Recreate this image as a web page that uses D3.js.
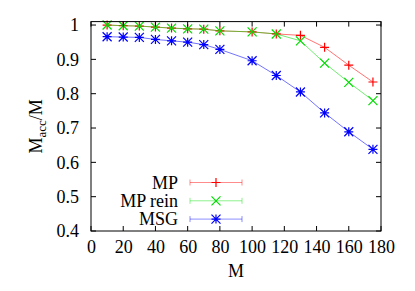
<!DOCTYPE html>
<html>
<head>
<meta charset="utf-8">
<script src="https://cdn.jsdelivr.net/npm/d3@7"></script>
</head>
<body style="margin:0; background:#fff">
<svg id="chart"></svg>
<script>
// x values (M)
const mValues = [10, 20, 30, 40, 50, 60, 70, 80, 100, 115, 130, 145, 160, 175];
// y values (Macc/M) per series
const mpValues = [1.0, 0.998, 0.997, 0.994, 0.991, 0.989, 0.988, 0.983, 0.980, 0.974, 0.970, 0.935, 0.883, 0.834];
const mpReinValues = [1.0, 0.998, 0.997, 0.994, 0.991, 0.989, 0.988, 0.983, 0.980, 0.974, 0.954, 0.889, 0.833, 0.780];
const msgValues = [0.966, 0.965, 0.964, 0.958, 0.954, 0.950, 0.943, 0.929, 0.896, 0.853, 0.805, 0.744, 0.689, 0.638];

const seriesNames = ['MP', 'MP rein', 'MSG'];
const seriesColors = ['#ff0000', '#00dd00', '#0000ff'];
const seriesMarkers = ['plus', 'cross', 'star'];

const xTicks = [0, 20, 40, 60, 80, 100, 120, 140, 160, 180];
const yTicks = [0.4, 0.5, 0.6, 0.7, 0.8, 0.9, 1];

const serif = '"Liberation Serif"';

let w = 415, h = 291;
let plotLeft = 91, plotRight = 381, plotTop = 21.6, plotBottom = 231;

let chart = d3.select('#chart').attr('width', w).attr('height', h);

let xScale = d3.scaleLinear().domain([0, 180]).range([plotLeft, plotRight]);
let yScale = d3.scaleLinear().domain([0.4, 1.01]).range([plotBottom, plotTop]);

// draw a point symbol like gnuplot's
function marker(g, type, x, y, color, s) {
	let p = '';
	if (type == 'plus' || type == 'star') p += `M${x - s},${y}H${x + s}M${x},${y - s}V${y + s}`;
	if (type == 'cross' || type == 'star') p += `M${x - s},${y - s}L${x + s},${y + s}M${x - s},${y + s}L${x + s},${y - s}`;
	g.append('path').attr('d', p).attr('stroke', color).attr('stroke-width', 1.2).attr('fill', 'none');
}

let series = [mpValues, mpReinValues, msgValues];

// lines then points
series.forEach((vals, i) => {
	let data = mValues.map((m, j) => ({ x: m, y: vals[j] }));
	let line = d3.line().x((d) => xScale(d.x)).y((d) => yScale(d.y));
	chart.append('path')
		.datum(data)
		.attr('d', line)
		.attr('fill', 'none')
		.attr('stroke', seriesColors[i])
		.attr('stroke-opacity', 0.55)
		.attr('stroke-width', 1);
	let g = chart.append('g');
	data.forEach((d) => marker(g, seriesMarkers[i], xScale(d.x), yScale(d.y), seriesColors[i], 4.5));
});

// axes, ticks inside and mirrored
let xAxis = d3.axisBottom(xScale).tickValues(xTicks).tickSize(0).tickPadding(9).tickFormat(d3.format('d'));
let yAxis = d3.axisLeft(yScale).tickValues(yTicks).tickSize(0).tickPadding(12).tickFormat((d) => d == 1 ? '1' : d3.format('.1f')(d));

let xg = chart.append('g').attr('transform', `translate(0,${plotBottom})`).call(xAxis);
let yg = chart.append('g').attr('transform', `translate(${plotLeft},0)`).call(yAxis);
[xg, yg].forEach((g) => {
	g.attr('font-family', serif).attr('font-size', 18);
	g.select('.domain').remove();
	g.selectAll('text').attr('fill', '#000');
});
xg.selectAll('text').attr('dy', '0.72em');

let ticks = chart.append('g').attr('stroke', '#000').attr('stroke-width', 1);
xTicks.forEach((t) => {
	let x = xScale(t);
	ticks.append('line').attr('x1', x).attr('x2', x).attr('y1', plotBottom).attr('y2', plotBottom - 5);
	ticks.append('line').attr('x1', x).attr('x2', x).attr('y1', plotTop).attr('y2', plotTop + 5);
});
yTicks.forEach((t) => {
	let y = yScale(t);
	ticks.append('line').attr('x1', plotLeft).attr('x2', plotLeft + 5).attr('y1', y).attr('y2', y);
	ticks.append('line').attr('x1', plotRight).attr('x2', plotRight - 5).attr('y1', y).attr('y2', y);
});

chart.append('rect')
	.attr('x', plotLeft).attr('y', plotTop)
	.attr('width', plotRight - plotLeft).attr('height', plotBottom - plotTop)
	.attr('fill', 'none').attr('stroke', '#000').attr('stroke-width', 1);

// labels
chart.append('text')
	.attr('x', (plotLeft + plotRight) / 2).attr('y', 277)
	.attr('font-family', serif).attr('font-size', 18)
	.style('text-anchor', 'middle')
	.text('M');

let ylab = chart.append('text')
	.attr('transform', `translate(42,${(plotTop + plotBottom) / 2}) rotate(-90)`)
	.attr('font-family', serif).attr('font-size', 18)
	.style('text-anchor', 'middle');
ylab.append('tspan').text('M');
ylab.append('tspan').attr('dy', 4).attr('font-size', 13).text('acc');
ylab.append('tspan').attr('dy', -4).text('/M');

// legend
let legend = chart.append('g');
seriesNames.forEach((name, i) => {
	let y = 182.5 + i * 18.3;
	legend.append('text')
		.attr('x', 178).attr('y', y).attr('dy', '0.35em')
		.attr('font-family', serif).attr('font-size', 18)
		.style('text-anchor', 'end')
		.text(name);
	let c = seriesColors[i];
	legend.append('path')
		.attr('d', `M190,${y}H242M190,${y - 3}V${y + 3}M242,${y - 3}V${y + 3}`)
		.attr('stroke', c).attr('stroke-opacity', 0.45).attr('fill', 'none');
	marker(legend, seriesMarkers[i], 216, y, c, 4.5);
});
</script>
</body>
</html>
